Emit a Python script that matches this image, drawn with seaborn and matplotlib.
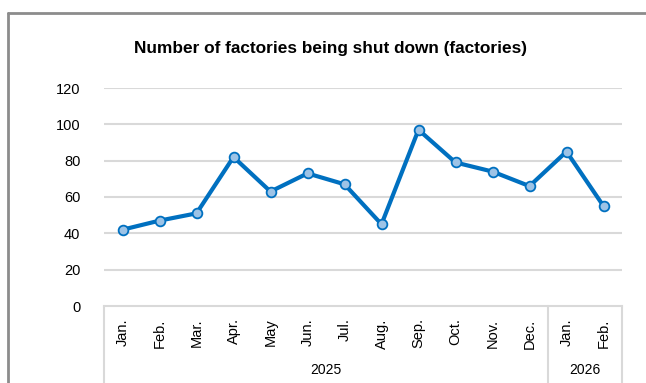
import matplotlib
matplotlib.use("Agg")
import matplotlib.pyplot as plt
import matplotlib.transforms as mtransforms
from matplotlib.lines import Line2D
import seaborn as sns
import pandas as pd

months = ["Jan.", "Feb.", "Mar.", "Apr.", "May", "Jun.", "Jul.", "Aug.",
          "Sep.", "Oct.", "Nov.", "Dec.", "Jan.", "Feb."]
years = ["2025", "2026"]
months_per_year = [12, 2]
closures = [42, 47, 51, 82, 63, 73, 67, 45, 97, 79, 74, 66, 85, 55]
y_ticks = [0, 20, 40, 60, 80, 100, 120]

sns.set_theme(style="white")
plt.rcParams["font.family"] = ["Liberation Sans", "DejaVu Sans"]

W, H = 646, 383
fig = plt.figure(figsize=(W / 100, H / 100), dpi=100)

# outer frame (top and left edges visible)
fx = 7.5 / W
fy = 1 - 12.5 / H
fig.add_artist(Line2D([fx, fx], [0, fy], transform=fig.transFigure,
                      color="#8c8c8c", lw=2))
fig.add_artist(Line2D([fx, 1], [fy, fy], transform=fig.transFigure,
                      color="#8c8c8c", lw=2))

left, right, bottom, top = 104, 622, 306, 88
ax = fig.add_axes([left / W, 1 - bottom / H, (right - left) / W, (bottom - top) / H])

df = pd.DataFrame({"idx": range(len(closures)), "value": closures})
sns.lineplot(data=df, x="idx", y="value", ax=ax, color="#0070C0", lw=3,
             marker="o", markersize=7, markerfacecolor="#9DC3E6",
             markeredgecolor="#0070C0", markeredgewidth=1.3, zorder=3)

ax.set_xlim(-0.5, len(closures) - 0.5)
ax.set_ylim(0, 120)
ax.set_yticks(y_ticks)
ax.set_yticklabels([str(t) for t in y_ticks], fontsize=10.5, color="#000000")
ax.tick_params(axis="y", length=0, pad=17)
for t in y_ticks[1:]:
    ax.axhline(t, color="#d9d9d9", lw=1.5, zorder=1)

ax.set_xticks(range(len(months)))
ax.set_xticklabels(months, rotation=90, fontsize=10.5, color="#000000",
                   va="top", ha="center")
ax.tick_params(axis="x", length=0, pad=9)
ax.set_xlabel("")
ax.set_ylabel("")

for s in ["top", "right", "left"]:
    ax.spines[s].set_visible(False)
ax.spines["bottom"].set_color("#d9d9d9")
ax.spines["bottom"].set_linewidth(1.5)

# category group separators and year labels
trans = mtransforms.blended_transform_factory(ax.transData, ax.transAxes)
ext = -(H - bottom + 2) / (bottom - top)
year_y = -(370 - bottom) / (bottom - top)
start = -0.5
bounds = [start]
for n in months_per_year:
    bounds.append(bounds[-1] + n)
for b in bounds:
    ax.add_line(Line2D([b, b], [0, ext], transform=trans, color="#d9d9d9",
                       lw=1.5, clip_on=False))
for yr, a, b in zip(years, bounds[:-1], bounds[1:]):
    ax.text((a + b) / 2, year_y, yr, transform=trans, ha="center",
            va="center", fontsize=10, color="#000000")

fig.text((133 + 527) / 2 / W, 1 - 49 / H,
         "Number of factories being shut down (factories)",
         ha="center", va="center", fontsize=12.4, fontweight="bold",
         color="#000000")

fig.savefig("out.png", dpi=100)
